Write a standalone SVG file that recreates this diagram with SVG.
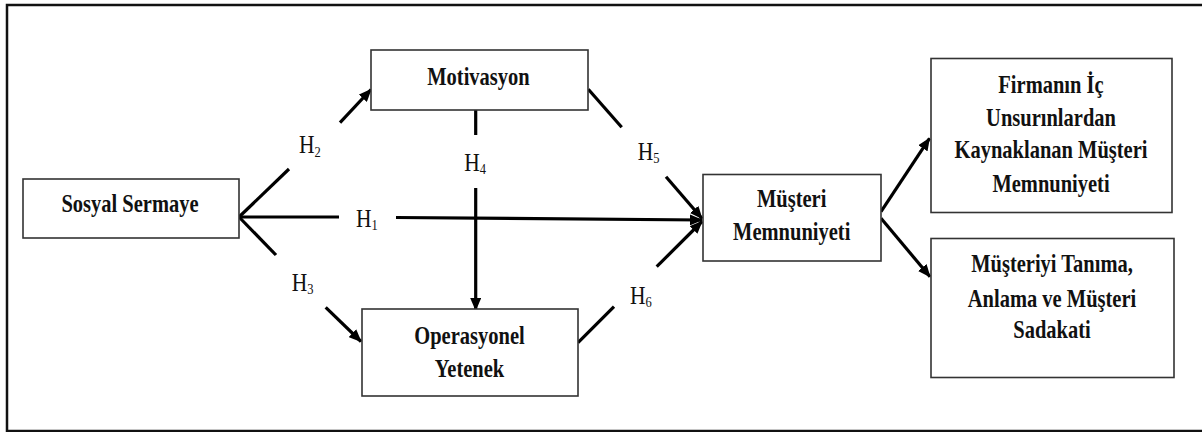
<svg xmlns="http://www.w3.org/2000/svg" width="1202" height="432" viewBox="0 0 1202 432">
<style>
.frame{fill:none;stroke:#111;stroke-width:2.5}
.box{fill:#fff;stroke:#333;stroke-width:1.6}
.lbl{font-family:"Liberation Serif","Times New Roman",serif;font-weight:bold;font-size:20.5px;fill:#111;text-anchor:middle}
.h{font-family:"Liberation Serif","Times New Roman",serif;font-size:21.5px;fill:#111}
.sub{font-size:12.5px}
.con{fill:none;stroke:#000;stroke-width:3.2}
</style>
<defs>
<marker id="arr" markerUnits="userSpaceOnUse" markerWidth="13" markerHeight="11" refX="12" refY="5.5" orient="auto">
<path d="M0,0 L13,5.5 L0,11 z" fill="#000"/>
</marker>
</defs>
<rect x="7" y="5" width="1200" height="426" class="frame"/>
<g id="connectors">
<path class="con" d="M239,217 L339,217"/>
<path class="con" d="M396,217.5 L702,220" marker-end="url(#arr)"/>
<path class="con" d="M239,217 L289,169"/>
<path class="con" d="M340,122.7 L371,89.5" marker-end="url(#arr)"/>
<path class="con" d="M239,217 L276,255"/>
<path class="con" d="M325.7,307.3 L361,341.5" marker-end="url(#arr)"/>
<path class="con" d="M475.7,110 L475.7,135"/>
<path class="con" d="M475.7,188 L475.7,310" marker-end="url(#arr)"/>
<path class="con" d="M588.3,89.3 L621.7,127.3"/>
<path class="con" d="M666,176.7 L702,218.5" marker-end="url(#arr)"/>
<path class="con" d="M578,342.7 L614,306.7"/>
<path class="con" d="M656.7,266.7 L702,221.5" marker-end="url(#arr)"/>
<path class="con" d="M881,211.7 L929.5,138.3" marker-end="url(#arr)"/>
<path class="con" d="M881,218.3 L930,276.7" marker-end="url(#arr)"/>
</g>
<g id="hlabels">
<text class="h" transform="matrix(1 0 0 1.15 356 226.7)">H<tspan class="sub" dy="3">1</tspan></text>
<text class="h" transform="matrix(1 0 0 1.15 299 153.3)">H<tspan class="sub" dy="3">2</tspan></text>
<text class="h" transform="matrix(1 0 0 1.15 291.7 290.7)">H<tspan class="sub" dy="3">3</tspan></text>
<text class="h" transform="matrix(1 0 0 1.15 464.3 171)">H<tspan class="sub" dy="3">4</tspan></text>
<text class="h" transform="matrix(1 0 0 1.15 637.7 160)">H<tspan class="sub" dy="3">5</tspan></text>
<text class="h" transform="matrix(1 0 0 1.15 630 304)">H<tspan class="sub" dy="3">6</tspan></text>
</g>
<g id="sosyal">
<rect class="box" x="23" y="179" width="216" height="59"/>
<text class="lbl" transform="matrix(1 0 0 1.22 130 212)">Sosyal Sermaye</text>
</g>
<g id="motivasyon">
<rect class="box" x="371" y="50" width="217" height="60"/>
<text class="lbl" transform="matrix(1 0 0 1.22 478.5 85)">Motivasyon</text>
</g>
<g id="operasyonel">
<rect class="box" x="362" y="309" width="216" height="87"/>
<text class="lbl" transform="matrix(1 0 0 1.22 469.5 344)">Operasyonel</text>
<text class="lbl" transform="matrix(1 0 0 1.22 469.5 377)">Yetenek</text>
</g>
<g id="musteri-memnuniyeti">
<rect class="box" x="703" y="174.5" width="178" height="86.5"/>
<text class="lbl" transform="matrix(1 0 0 1.22 791.7 206.7)">Müşteri</text>
<text class="lbl" transform="matrix(1 0 0 1.22 791.7 240)">Memnuniyeti</text>
</g>
<g id="firmanin">
<rect class="box" x="931" y="58.5" width="241" height="154"/>
<text class="lbl" transform="matrix(1 0 0 1.22 1051 92.7)">Firmanın İç</text>
<text class="lbl" transform="matrix(1 0 0 1.22 1051 126)">Unsurınlardan</text>
<text class="lbl" transform="matrix(1 0 0 1.22 1051 158.3)">Kaynaklanan Müşteri</text>
<text class="lbl" transform="matrix(1 0 0 1.22 1051 191.7)">Memnuniyeti</text>
</g>
<g id="musteriyi">
<rect class="box" x="931" y="238.5" width="243" height="139"/>
<text class="lbl" transform="matrix(1 0 0 1.22 1052 271.7)">Müşteriyi Tanıma,</text>
<text class="lbl" transform="matrix(1 0 0 1.22 1052 306.7)">Anlama ve Müşteri</text>
<text class="lbl" transform="matrix(1 0 0 1.22 1052 338.3)">Sadakati</text>
</g>
</svg>
